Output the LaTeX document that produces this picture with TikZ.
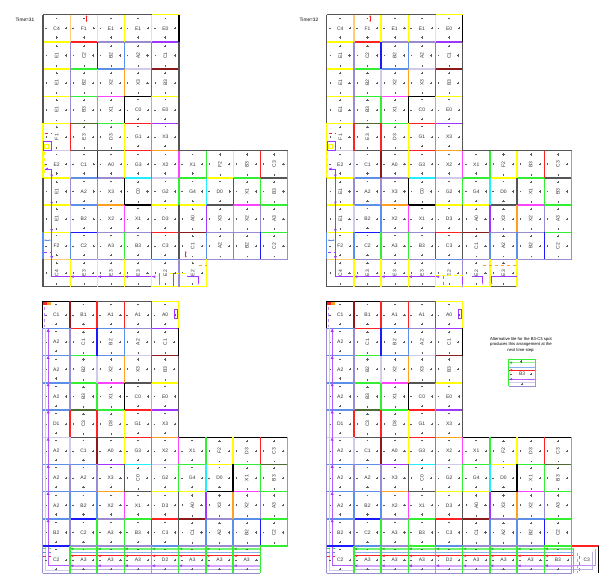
\documentclass[tikz,border=0pt]{standalone}
\usepackage{fontspec}
\setmainfont{Liberation Sans}
\usetikzlibrary{arrows.meta}
\definecolor{cG}{HTML}{555555}
\definecolor{cK}{HTML}{000000}
\definecolor{cY}{HTML}{FFFF00}
\definecolor{cR}{HTML}{FF2222}
\definecolor{cD}{HTML}{8B1A1A}
\definecolor{cB}{HTML}{5B8FE8}
\definecolor{cN}{HTML}{1A1AFF}
\definecolor{cL}{HTML}{9B8BD0}
\definecolor{cS}{HTML}{D2CAEA}
\definecolor{cP}{HTML}{A035FF}
\definecolor{cM}{HTML}{FF44FF}
\definecolor{cC}{HTML}{22EEFF}
\definecolor{cE}{HTML}{33EE33}
\definecolor{cV}{HTML}{4F6B35}
\definecolor{cO}{HTML}{FFA020}
\definecolor{cQ}{HTML}{FFCC77}
\tikzset{
  edge/.style={line width=1.25pt},
  mk/.style={line width=0.25pt,draw=black!65},
  lab/.style={font=\fontsize{5}{5}\selectfont,inner sep=0pt,text=black!80},
  note/.style={font=\fontsize{4.2}{5.3}\selectfont,inner sep=0pt,align=center},
  timel/.style={font=\fontsize{4.8}{5}\selectfont,inner sep=0pt,anchor=west},
  dbl/.style={line width=1pt,{Latex[length=1.6pt,width=1.8pt]}-{Latex[length=1.6pt,width=1.8pt]}},
}
\newcommand\Hl[3]{\foreach \cc [count=\ii from #2] in {#3}{\draw[edge,draw=c\cc] (\ii,-#1) -- ++(1,0);}}
\newcommand\Vl[2]{\foreach \cc [count=\ii from 0] in {#2}{\draw[edge,draw=c\cc] (\ii,-#1) -- ++(0,-1);}}
\newcommand\tile[4]{%
  \begin{scope}[shift={(#1+0.5,-#2-0.5)},rotate=#4]
    \node[lab,rotate=#4] (\pp-#1-#2) at (0,0) {#3};
    \draw[mk] (0.36,0) +(-0.04,0) -- +(0.04,0) (0.36,0) +(0,-0.04) -- +(0,0.04)
      (0,-0.34) +(-0.04,0) -- +(0.04,0) (0,-0.34) +(0,-0.04) -- +(0,0.04)
      (-0.39,0) +(-0.03,0) -- +(0.03,0)
      (0,0.39) +(-0.03,0) -- +(0.03,0);
  \end{scope}}
\newcommand\Lr[2]{\foreach \la/\ro [count=\ii from 0] in {#2}{\tile{\ii}{#1}{\la}{\ro}}}
\newcommand\Bus[2]{%
  \draw[cE!70,line width=1.4pt] (#1,-9.1) -- (#2,-9.1);
  \draw[cB!70,line width=0.7pt] (#1,-9.24) -- (#2,-9.24);
  \draw[cR,line width=0.8pt] (#1,-9.36) -- (#2,-9.36);
  \draw[cP!45,line width=1.8pt] (#1,-9.72) -- (#2,-9.72);
  \draw[cL!70,line width=0.6pt] (#1,-9.85) -- (#2,-9.85);}
\newcommand\Heads[1]{\foreach \ii in {#1}{%
  \fill[cE!80!black] (\ii+0.03,-9.1) -- ++(0.1,0.045) -- ++(0,-0.09) -- cycle;
  \fill[cR] (\ii+0.03,-9.36) -- ++(0.1,0.045) -- ++(0,-0.09) -- cycle;
  \fill[cP] (\ii+0.03,-9.72) -- ++(0.1,0.05) -- ++(0,-0.1) -- cycle;}}
\newcommand\TopCommon{%
  \Hl{0}{0}{G,G,G,G,Y}
  \Hl{1}{0}{Y,R,L,L,P}
  \Hl{2}{0}{Y,E,B,S,D}
  \Hl{3}{0}{Y,E,M,K,Y}
  \Hl{4}{0}{Y,V,E,R,P}
  \Hl{5}{0}{S,G,G,R,O,G,G,G,G}
  \Hl{6}{0}{Y,B,L,C,S,E,Y,E,G}
  \Hl{7}{0}{Y,B,O,K,Y,Y,G,M,E}
  \Hl{8}{0}{Y,N,L,L,R,D,L,L,E}
  \Hl{9}{0}{Q,L,L,L,B,L,L,L,L}
  \Vl{0}{G,Q,Y,Y,Y,K}
  \Vl{1}{G,L,N,B,B,G}
  \Vl{2}{G,L,S,O,P,G}
  \Vl{3}{G,L,E,K,C,G}
  \Vl{4}{Y,R,R,Y,L,G}
  \Vl{5}{Y,S,D,Y,B,M,E,Y,R,E}
  \Vl{6}{G,L,L,K,L,E,C,G,E,L}
  \Vl{7}{G,S,B,M,E,G,P,O,L,L}
  \Vl{8}{B,B,E,E,G,G,B,B,N,L}
  \Lr{0}{C4/0,F1/0,E1/0,E1/0,E0/0}
  \Lr{1}{E1/90,C2/90,B2/90,A2/90,C1/90}
  \Lr{2}{E1/90,B2/90,X2/90,X3/90,B3/90}
  \Lr{3}{E1/90,B3/90,X1/90,C0/0,E0/0}
  \Lr{4}{F1/90,E3/90,D3/90,G1/0,X3/0}
  \Lr{5}{E2/0,C1/0,A0/0,G3/0,X2/0,X1/0,F2/90,B3/90,C3/90}
  \Lr{6}{E1/90,A2/0,X3/0,C0/90,G2/0,G4/0,D0/0,X1/90,B3/90}
  \Lr{7}{E1/90,B2/0,X2/0,X1/0,D3/0,A0/90,X3/90,X2/90,A3/90}
  \Lr{8}{F2/0,C2/0,A3/0,B3/0,C3/0,C1/90,A2/90,B2/90,C2/90}
  % markers
  \draw[dbl,cR] (1.6,-0.02) -- (1.6,-0.27);
  \draw[cR,dashed,line width=1pt] (0.07,-4.37) -- (0.33,-4.37);
  \draw[cP,line width=0.6pt] (0.02,-4.67) rectangle (0.32,-4.97);
  \draw[cY,line width=0.6pt] (0.05,-4.75) rectangle (0.2,-4.93);
  \draw[cB,dbl,line width=0.6pt] (0.04,-8.29) -- (0.29,-8.29);
  \draw[cP,dashed,line width=0.8pt] (0.04,-8.75) -- (0.29,-8.75);
  \draw[cY,dashed,line width=0.8pt] (0.04,-5.05) -- (0.04,-5.9);
  \draw[cP,line width=0.8pt] (0.08,-5.67) -- (0.32,-5.67) -- (0.32,-9.63) -- (4.1,-9.63);
  \foreach \ii in {1,2,3,4}{\fill[cP] (\ii+0.02,-9.63) -- ++(0.11,0.05) -- ++(0,-0.1) -- cycle;}
  \foreach \ii in {6,7,8,9}{\fill[cP] (0.32,-\ii+0.02) -- ++(-0.05,0.1) -- ++(0.1,0) -- cycle;}
  \fill[cP] (0.08,-5.67) -- ++(0.1,0.05) -- ++(0,-0.1) -- cycle;
}
\newcommand\BotCommon{%
  \Hl{0}{0}{K,K,G,G,Y}
  \Hl{1}{0}{B,R,B,L,P}
  \Hl{2}{0}{B,E,B,S,D}
  \Hl{3}{0}{B,E,M,G,Y}
  \Hl{4}{0}{B,V,E,R,P}
  \Hl{5}{0}{S,G,G,R,O,K,K,K,K}
  \Hl{6}{0}{B,B,P,C,S,E,Y,E,V}
  \Hl{7}{0}{B,B,O,G,Y,Y,K,M,E}
  \Hl{8}{0}{B,N,L,E,R,D,L,B,E}
  \Vl{0}{K,D,R,R,R,Y}
  \Vl{1}{L,L,N,B,B,K}
  \Vl{2}{L,L,S,O,P,G}
  \Vl{3}{L,L,E,K,C,G}
  \Vl{4}{L,R,R,Y,L,G}
  \Vl{5}{L,S,D,Y,B,M,E,Y,R,E}
  \Vl{6}{L,L,L,G,L,E,C,K,E,L}
  \Vl{7}{L,B,B,M,E,G,P,O,L,L}
  \Vl{8}{L,L,E,E,V,G,B,B,N,L}
  \Lr{0}{C1/0,B1/0,A1/0,A1/0,A0/0}
  \Lr{1}{A2/0,C1/90,B2/90,A2/90,C1/90}
  \Lr{2}{A2/0,B2/90,X2/90,X3/90,B3/90}
  \Lr{3}{A2/0,B3/90,X1/90,C0/0,E0/0}
  \Lr{4}{D1/0,C3/90,D3/90,G1/0,X3/0}
  \Lr{5}{A2/0,C1/0,A0/0,G3/0,X2/0,X1/0,F2/90,D3/90,C3/90}
  \Lr{6}{A2/0,A2/0,X3/0,C0/90,G2/0,G4/0,D0/0,X1/90,B3/90}
  \Lr{7}{A2/0,B2/0,X2/0,X1/0,D3/0,A0/90,X3/90,X2/90,A3/90}
  \Lr{8}{B2/0,C2/0,A3/0,B3/0,C3/0,C1/90,A2/90,B2/90,C2/90}
  % markers
  \fill[cR] (0.02,-0.02) rectangle (0.14,-0.12);
  \fill[cO] (0.17,-0.02) rectangle (0.29,-0.12);
  \draw[cP!60,dashed,line width=0.6pt] (0.06,-0.2) -- (0.06,-0.95);
  \draw[cP,line width=0.6pt] (4.83,-0.3) rectangle (4.96,-0.62);
  \draw[cS,line width=0.9pt] (0.1,-1) -- (0.1,-9.88) -- (1,-9.88);
  \draw[cP!80,line width=0.9pt] (0.2,-1) -- (0.2,-9.72) -- (1,-9.72);
  \foreach \ii in {1,...,8}{\fill[cP] (0.2,-\ii-0.02) -- ++(-0.06,-0.1) -- ++(0.12,0) -- cycle;}
  \draw[cE,line width=0.8pt,dashed] (0,-9.1) -- (0.3,-9.1);
  \draw[cB,line width=0.6pt,dashed] (0,-9.24) -- (0.3,-9.24);
  \draw[cR,line width=0.6pt,dashed] (0,-9.36) -- (0.3,-9.36);
}
\begin{document}
\begin{tikzpicture}[x=1pt,y=1pt]
\useasboundingbox (0,0) rectangle (614,-588);
\fill[white] (0,0) rectangle (614,-588);
\node[timel] (t31) at (15.5,-19.5) {Time=31};
\node[timel] (t32) at (299.5,-19.5) {Time=32};

% ---------------- top left
\begin{scope}[shift={(43pt,-14.7pt)},x=27.2pt,y=27.2pt]
\def\pp{tl}
\TopCommon
\Hl{10}{0}{G,G,G,G,Y,Y}
\Vl{9}{G,Y,Y,Y,Y,L,Y}
\Lr{9}{C4/90,E3/90,E3/90,E3/90,E2/90,E2/90}
\draw[dbl,cR] (5.25,-8.69) -- (5.25,-8.93);
\draw[cY,dashed,line width=0.8pt] (4.67,-9.5) -- (5.28,-9.5);
\draw[cB,line width=0.6pt,-{Latex[length=1.5pt]}] (4.29,-9.5) -- (4.29,-9.96);
\draw[cP,line width=0.6pt] (4.79,-9.5) -- (4.79,-9.96);
\draw[cP,line width=0.7pt,-{Latex[length=1.5pt]}] (5.3,-9.63) -- (5.71,-9.63) -- (5.71,-9.93);
\draw[cO,dashed,line width=0.8pt] (5.74,-9.2) -- (6.02,-9.2);
\end{scope}

% ---------------- top right
\begin{scope}[shift={(326.7pt,-14.7pt)},x=27.2pt,y=27.2pt]
\def\pp{tr}
\TopCommon
\Hl{10}{0}{G,G,G,G,Y,Y,G}
\Vl{9}{G,Y,Y,Y,Y,L,Y,Y}
\Lr{9}{C4/90,E3/90,E3/90,E3/90,E2/90,E2/90,E3/90}
\draw[cY,dashed,line width=0.8pt] (4.0,-9.6) -- (5.02,-9.6);
\draw[cB,dashed,line width=0.6pt] (4.29,-9.6) -- (4.29,-9.96);
\draw[cP,line width=0.7pt,-{Latex[length=1.5pt]}] (5.0,-9.63) -- (5.0,-9.93);
\draw[cP,line width=0.7pt,-{Latex[length=1.5pt]}] (5.34,-9.63) -- (5.74,-9.63) -- (5.74,-9.93);
\draw[cO,dashed,line width=0.8pt] (5.75,-9.2) -- (6.99,-9.2);
\draw[cP,line width=0.7pt,-{Latex[length=1.5pt]}] (6.99,-9.63) -- (6.07,-9.63) -- (6.07,-9.93);
\end{scope}

% ---------------- bottom left
\begin{scope}[shift={(42.7pt,-301.3pt)},x=27.2pt,y=27.2pt]
\def\pp{bl}
\BotCommon
\Hl{9}{0}{N,L,L,L,B,L,L,L,E}
\Bus{1}{8}
\Hl{10}{0}{L,L,L,L,L,L,L,L}
\Vl{9}{L,E,E,E,E,E,E,E,E}
\Heads{1,...,7}
\Lr{9}{C2/0,A3/0,A3/0,A3/0,D2/0,A3/0,A3/0,A3/0}
\end{scope}

% ---------------- bottom right
\begin{scope}[shift={(326.7pt,-301.3pt)},x=27.2pt,y=27.2pt]
\def\pp{br}
\BotCommon
\Hl{9}{0}{N,B,L,E,B,L,L,L,E}
\Bus{1}{9.1}
\Hl{10}{0}{L,L,L,L,L,L,L,L,L}
\Vl{9}{L,E,E,E,E,E,E,E,E,E}
\Heads{1,...,8}
\Lr{9}{C2/0,A3/0,A3/0,A3/0,D2/0,A3/0,A3/0,A3/0,B3/0}
\draw[edge,draw=cR] (9,-9) -- (10,-9);
\draw[edge,draw=cK] (10,-9) -- (10,-10);
\draw[cE,line width=1pt] (9.08,-9.1) -- (9.08,-10);
\draw[cB!70,dashed,line width=0.6pt] (9.2,-9.24) -- (9.2,-10);
\draw[cR!80,dashed,line width=0.6pt] (9.3,-9.36) -- (9.3,-10);
\draw[cP!60,line width=0.8pt] (9.1,-9.72) -- (9.88,-9.72) -- (9.88,-9.12);
\draw[cL!70,line width=0.8pt] (9.1,-9.85) -- (9.76,-9.85) -- (9.76,-9.22);
\node[lab] (br-9-9) at (9.56,-9.5) {C3};
\end{scope}

% ---------------- alternative tile
\node[note] (altnote) at (521,-344.7) {Alternative tile for the B3-C3 spot\\produces this arrangement at the\\next time step:};
\draw[cE!55,line width=1.6pt] (508.5,-362.6) -- (535.7,-362.6);
\draw[cB!70,line width=0.7pt] (508.5,-367.6) -- (535.7,-367.6);
\draw[cR,line width=0.8pt] (508.5,-370.2) -- (535.7,-370.2);
\draw[cP!80,line width=1pt] (508.5,-379.2) -- (535.7,-379.2);
\draw[cS,line width=1.2pt] (508.5,-382.6) -- (535.7,-382.6);
\draw[edge,draw=cE] (508.5,-359.3) -- (535.7,-359.3);
\draw[edge,draw=cL] (508.5,-386.5) -- (535.7,-386.5);
\draw[edge,draw=cE] (508.5,-359.3) -- (508.5,-386.5);
\draw[edge,draw=cE] (535.7,-359.3) -- (535.7,-386.5);
\fill[cE!80!black] (509.4,-362.6) -- ++(2.7,1.2) -- ++(0,-2.4) -- cycle;
\fill[cR] (509.4,-370.2) -- ++(2.7,1.2) -- ++(0,-2.4) -- cycle;
\fill[cP] (509.4,-379.2) -- ++(2.7,1.3) -- ++(0,-2.6) -- cycle;
\node[lab] (alt) at (522.1,-373.9) {B3};
\draw[mk] (520,-361.5) -- (522.4,-361.5) (521.2,-360.3) -- (521.2,-362.7)
  (529.8,-373.9) -- (532.2,-373.9) (531,-372.7) -- (531,-375.1)
  (510.2,-373.9) -- (512.4,-373.9)
  (520.5,-384.3) -- (522.9,-384.3) (521.7,-383.1) -- (521.7,-385.5);
\end{tikzpicture}
\end{document}
